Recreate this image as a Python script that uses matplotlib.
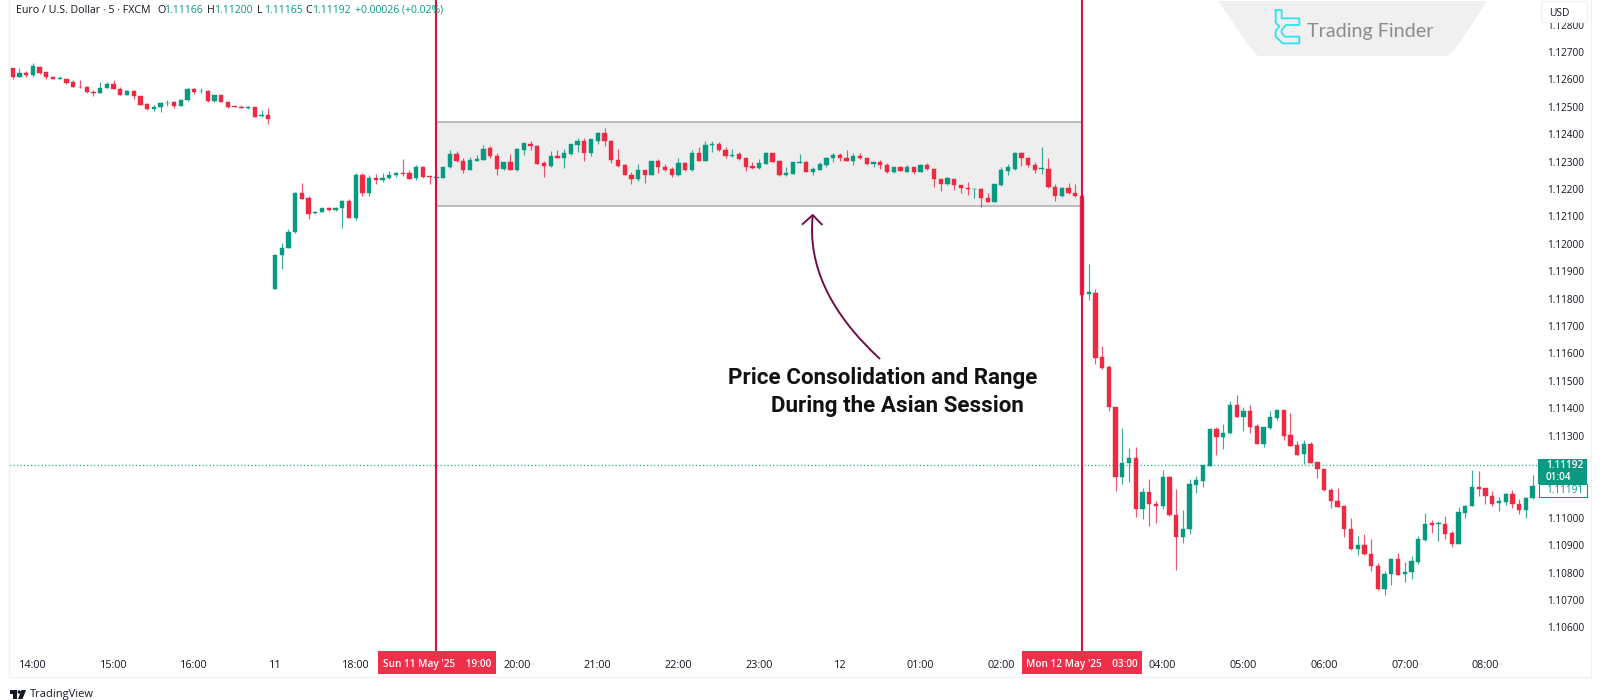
import numpy as np
import matplotlib
matplotlib.use("Agg")
import matplotlib.pyplot as plt
from matplotlib.patches import Rectangle, Polygon, PathPatch, FancyBboxPatch, Circle
from matplotlib.path import Path

# EUR/USD 5 min, prices in points (1 point = 0.00001), bar 0 is the 17:00 open of Sunday
first_bar = -39

opens = [
    112641,112609,112624,112615,112647,112627,112610,112600,112603,112592,112574,112574,
    112555,112551,112569,112585,112566,112544,112557,112540,112510,112493,112499,112513,
    112516,112503,112524,112566,112557,112559,112520,112542,112518,112502,112499,112496,
    112498,112465,112471,
    111834,111958,111985,112042,112187,112166,112111,112117,112130,112122,112132,112158,
    112094,112250,112184,112240,112233,112239,112252,112257,112259,112239,112280,112248,
    112241,112241,112279,112327,112304,112270,112304,112307,112349,112321,112273,112298,
    112269,112342,112366,112358,112295,112284,112321,112315,112327,112360,112376,112330,
    112377,112406,112376,112305,112286,112253,112235,112270,112251,112303,112282,112274,
    112250,112295,112268,112330,112304,112360,112366,112342,112320,112327,112312,112284,
    112276,112293,112330,112302,112251,112256,112296,112299,112262,112270,112286,112313,
    112326,112315,112304,112319,112313,112290,112298,112288,112264,112280,112264,112279,
    112264,112288,112275,112237,112217,112237,112215,112203,112200,112200,112169,112152,
    112213,112265,112275,112330,112315,112288,112274,112275,112207,112173,112203,112186,
    112175,111816,111822,111587,111550,111406,111149,111199,111218,111033,111093,111050,
    111043,111150,111011,110929,110959,111121,111136,111190,111323,111294,111308,111412,
    111369,111389,111335,111269,111329,111365,111392,111301,111266,111232,111269,111204,
    111179,111101,111063,111042,110960,110885,110901,110868,110826,110739,110796,110850,
    110794,110801,110839,110920,110980,110976,110979,110943,110906,111019,111043,111112,
    111108,111080,111053,111058,111086,111050,111028,111071,
]
highs = [
    112641,112641,112631,112659,112650,112627,112610,112611,112603,112598,112598,112577,
    112561,112591,112591,112597,112571,112563,112560,112540,112513,112508,112518,112525,
    112520,112529,112569,112569,112568,112560,112543,112543,112519,112502,112507,112502,
    112501,112488,112496,
    111959,112002,112054,112188,112223,112173,112121,112130,112136,112133,112160,112162,
    112260,112260,112252,112256,112260,112267,112263,112310,112269,112289,112285,112249,
    112254,112280,112344,112338,112312,112318,112326,112359,112358,112333,112299,112327,
    112351,112368,112374,112360,112301,112340,112342,112346,112366,112385,112386,112383,
    112408,112422,112378,112346,112290,112262,112290,112270,112304,112309,112293,112280,
    112314,112297,112341,112354,112374,112376,112371,112352,112348,112337,112312,112297,
    112308,112337,112330,112305,112282,112299,112327,112303,112281,112298,112318,112331,
    112331,112342,112330,112333,112314,112299,112305,112296,112281,112285,112287,112279,
    112290,112296,112275,112237,112243,112237,112215,112225,112205,112205,112187,112218,
    112282,112293,112336,112333,112318,112298,112354,112313,112218,112207,112223,112218,
    112175,111926,111834,111628,111559,111406,111329,111255,111257,111108,111140,111061,
    111174,111151,111104,111027,111140,111151,111192,111323,111330,111341,111425,111448,
    111403,111412,111342,111332,111389,111392,111392,111383,111282,111283,111278,111205,
    111180,111110,111108,111043,110999,110935,110940,110921,110834,110805,110855,110870,
    110839,110862,110934,111018,110993,110988,111005,110951,111039,111047,111173,111172,
    111108,111098,111077,111089,111101,111067,111075,111155,
]
lows = [
    112603,112609,112610,112610,112620,112600,112600,112600,112583,112571,112570,112552,
    112541,112549,112568,112564,112543,112543,112529,112507,112487,112486,112481,112502,
    112497,112502,112523,112547,112551,112519,112519,112518,112497,112498,112496,112493,
    112462,112464,112439,
    111834,111907,111984,112041,112164,112092,112110,112116,112121,112121,112057,112094,
    112086,112176,112176,112218,112226,112237,112245,112249,112235,112232,112242,112218,
    112235,112239,112278,112299,112259,112269,112303,112305,112313,112251,112271,112269,
    112265,112325,112344,112290,112245,112282,112313,112278,112326,112337,112304,112321,
    112366,112358,112296,112279,112250,112218,112228,112223,112250,112259,112265,112243,
    112248,112265,112265,112303,112303,112337,112340,112314,112318,112307,112265,112274,
    112275,112292,112297,112248,112248,112254,112295,112262,112253,112269,112281,112298,
    112304,112303,112288,112309,112288,112280,112274,112259,112259,112265,112263,112256,
    112263,112271,112208,112192,112215,112197,112187,112179,112169,112133,112151,112151,
    112212,112253,112269,112284,112279,112259,112256,112205,112157,112170,112183,112172,
    111814,111794,111563,111543,111391,111099,111123,111132,111003,110994,110971,110982,
    111033,111005,110809,110908,110941,111092,111112,111189,111230,111251,111307,111368,
    111318,111308,111270,111260,111324,111358,111283,111263,111228,111196,111200,111144,
    111099,111037,111038,110929,110884,110863,110866,110807,110738,110717,110756,110790,
    110766,110777,110831,110915,110945,110915,110924,110895,110904,110998,111042,111080,
    111049,111043,111025,111047,111036,111015,111000,111070,
]
closes = [
    112609,112625,112615,112648,112625,112609,112600,112605,112588,112571,112571,112554,
    112551,112569,112585,112566,112544,112558,112540,112508,112492,112501,112515,112515,
    112503,112524,112566,112555,112559,112520,112542,112519,112498,112499,112497,112498,
    112464,112470,112457,
    111959,111986,112043,112187,112165,112110,112117,112130,112123,112132,112158,112095,
    112250,112184,112240,112234,112240,112252,112259,112254,112238,112280,112244,112243,
    112245,112280,112327,112302,112270,112305,112308,112348,112320,112273,112298,112270,
    112346,112368,112357,112292,112284,112321,112315,112332,112364,112376,112330,112382,
    112406,112374,112305,112284,112251,112235,112270,112251,112303,112279,112270,112250,
    112295,112268,112330,112304,112360,112366,112341,112320,112325,112308,112281,112278,
    112295,112332,112298,112251,112258,112298,112299,112263,112273,112290,112315,112326,
    112314,112304,112319,112312,112290,112297,112287,112264,112279,112267,112280,112264,
    112287,112273,112236,112218,112239,112214,112203,112200,112202,112167,112152,112217,
    112268,112280,112332,112314,112287,112270,112276,112206,112173,112205,112185,112173,
    111814,111823,111584,111548,111404,111149,111199,111218,111033,111093,111049,111043,
    111149,111009,110929,110960,111123,111138,111192,111323,111295,111311,111412,111369,
    111389,111333,111271,111331,111368,111392,111300,111264,111230,111268,111201,111179,
    111100,111063,111039,110959,110885,110900,110867,110825,110739,110796,110850,110792,
    110802,110841,110921,110979,110975,110980,110942,110904,111020,111044,111114,111106,
    111081,111050,111060,111086,111049,111030,111072,111116,
]

time_ticks = [-36, -24, -12, 0, 12, 36, 48, 60, 72, 84, 96, 108, 132, 144, 156, 168, 180]
time_labels = ["14:00", "15:00", "16:00", "11", "18:00", "20:00", "21:00", "22:00", "23:00",
               "12", "01:00", "02:00", "04:00", "05:00", "06:00", "07:00", "08:00"]
price_ticks = list(range(110600, 112900, 100))

session_open = 24
session_close = 120
range_top = 112444
range_bottom = 112139
last_price = 111192

GREEN = "#089981"
RED = "#ee2a43"
LINE_RED = "#d8123c"
TEXT = "#131722"
FONT = "Open Sans"

fig = plt.figure(figsize=(16, 7), dpi=100, facecolor="white")
W, H = 1600, 700
ax = fig.add_axes([9 / W, 1 - 651 / H, (1545 - 9) / W, 651 / H])

x = np.arange(first_bar, first_bar + len(opens))
o = np.array(opens)
c = np.array(closes)
colors = [GREEN if cl >= op else RED for op, cl in zip(o, c)]

# zona de consolidacao da sessao asiatica
ax.add_patch(Rectangle((session_open, range_bottom), session_close - session_open,
                       range_top - range_bottom, facecolor="#eeeeee",
                       edgecolor="#b8b8b8", lw=1.3, zorder=1))
ax.hlines(last_price, first_bar - 1, 187.8, color=GREEN, ls=(0, (1, 1.8)), lw=0.9, alpha=0.85, zorder=1.5)

ax.vlines(x, lows, highs, colors=colors, lw=0.85, alpha=0.8, zorder=2)
ax.bar(x, np.abs(c - o), bottom=np.minimum(o, c), width=0.64, color=colors,
       edgecolor=colors, lw=0.3, zorder=3)

ax.axvline(session_open, color=LINE_RED, lw=1.5, zorder=4)
ax.axvline(session_close, color=LINE_RED, lw=1.5, zorder=4)

ax.set_xlim(-39.55, 188.85)
ax.set_ylim(110514, 112890)
ax.yaxis.tick_right()
ax.set_yticks(price_ticks)
ax.set_yticklabels([f"{p / 100000:.5f}" for p in price_ticks])
ax.set_xticks(time_ticks)
ax.set_xticklabels(time_labels)
ax.tick_params(axis="y", length=0, pad=1.5, labelsize=7.2, labelcolor=TEXT)
ax.tick_params(axis="x", length=0, pad=6.5, labelsize=7.8, labelcolor=TEXT)
for lab in ax.get_xticklabels() + ax.get_yticklabels():
    lab.set_fontfamily(FONT)
for s in ax.spines.values():
    s.set_visible(False)

# camada em pixels para o que nao e dado
ov = fig.add_axes([0, 0, 1, 1], zorder=5)
ov.set_xlim(0, W)
ov.set_ylim(H, 0)
ov.axis("off")
ov.patch.set_alpha(0)

# borda do grafico
ov.plot([8.5, 8.5, 1591, 1591], [0, 677, 677, 0], color="#f1f2f4", lw=1)

# cabecalho
ov.text(16, 10.5, "Euro / U.S. Dollar · 5 · FXCM", fontsize=7.7, family=FONT, color=TEXT, va="center")
header = [(157, "O", "1.11166"), (207, "H", "1.11200"), (257, "L", "1.11165"), (305, "C", "1.11192")]
for hx, letter, val in header:
    ov.text(hx, 10.5, letter, fontsize=7.7, family=FONT, color=TEXT, va="center")
    ov.text(hx + 7, 10.5, val, fontsize=7.5, family=FONT, color=GREEN, va="center")
ov.text(355, 10.5, "+0.00026 (+0.02%)", fontsize=7.5, family=FONT, color=GREEN, va="center")

# etiquetas de data
for x0, x1, label in [(378, 496, "Sun 11 May '25    19:00"), (1022, 1142, "Mon 12 May '25    03:00")]:
    ov.add_patch(Rectangle((x0, 651), x1 - x0, 23, facecolor="#f0304a", edgecolor="none"))
    ov.text((x0 + x1) / 2, 664, label, color="white", fontsize=7.2, family=FONT,
            ha="center", va="center", weight="semibold")

# etiquetas de preco
ov.add_patch(Rectangle((1538, 459), 49, 25, facecolor=GREEN, edgecolor="none"))
ov.text(1546, 466, "1.11192", color="white", fontsize=7.2, family=FONT, va="center", weight="semibold")
ov.text(1546, 477, "01:04", color="white", fontsize=7.2, family=FONT, va="center", weight="semibold")
ov.add_patch(Rectangle((1538.5, 484), 48.5, 13, facecolor="white", edgecolor=GREEN, lw=0.8))
ov.text(1546, 490.8, "1.11191", color=GREEN, fontsize=7.2, family=FONT, va="center")

# caixa USD
ov.add_patch(FancyBboxPatch((1543, 3), 43, 18, boxstyle="round,pad=1.5,rounding_size=3",
                            facecolor="white", edgecolor="#eeeff2", lw=0.8))
ov.text(1549, 13, "USD", color=TEXT, fontsize=7.4, family=FONT, va="center")

# marca d'agua Trading Finder
verts = [(1218, 1), (1487, 1), (1470, 27), (1458, 45), (1448, 56), (1258, 56), (1248, 45), (1236, 27)]
ov.add_patch(Polygon(verts, closed=True, facecolor="#f0f0f0", edgecolor="none", zorder=1))
CYAN = "#2be4f4"
logo = [(47, 30), (65, 30), (65, 55), (118, 55), (118, 75), (78, 75), (65, 90), (65, 100), (75, 110),
        (118, 110), (118, 130), (68, 130), (47, 110), (47, 92), (58, 80), (47, 68), (47, 30)]
ov.plot([1260 + p[0] / 3 for p in logo], [p[1] / 3 for p in logo], color=CYAN, lw=1.3, zorder=2)
ov.text(1307, 31, "Trading Finder", color="#8c8c8c", fontsize=14.2, family="Lato", va="center", zorder=2)

# seta curva e texto
MAROON = "#6e0f45"
curve = Path([(880, 359), (805, 290), (812.7, 216)], [Path.MOVETO, Path.CURVE3, Path.CURVE3])
ov.add_patch(PathPatch(curve, facecolor="none", edgecolor=MAROON, lw=1.4))
ov.plot([802.7, 812.7, 821.7], [224, 215, 224.3], color=MAROON, lw=1.4)
ov.text(728, 384, "Price Consolidation and Range", fontsize=16.1, family="Roboto", weight="semibold",
        color="#111111", va="baseline")
ov.text(771, 412, "During the Asian Session", fontsize=16.1, family="Roboto", weight="semibold",
        color="#111111", va="baseline")

# logo TradingView
ov.add_patch(Polygon([(9.5, 690), (17, 690), (17, 699), (13, 699), (13, 694), (9.5, 694)], facecolor="#131722"))
ov.add_patch(Circle((19.2, 692), 1.7, facecolor="#131722", edgecolor="none"))
ov.add_patch(Polygon([(21.5, 690), (26, 690), (22.5, 699), (18, 699)], facecolor="#131722"))
ov.text(30, 694, "TradingView", color=TEXT, fontsize=8.0, family=FONT, va="center")

fig.savefig("out.png", dpi=100)
